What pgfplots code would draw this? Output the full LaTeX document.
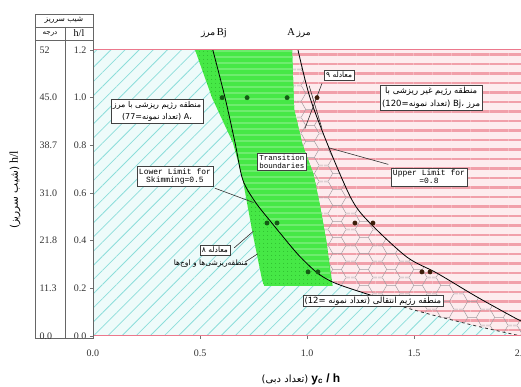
\documentclass[border=0pt]{standalone}
\usepackage{fontspec}
\setmainfont{Liberation Serif}
\newfontfamily\fa[Script=Arabic]{DejaVu Sans}
\newfontfamily\mono{Liberation Mono}
\newfontfamily\sans{Liberation Sans}
\usepackage{pgfplots}
\pgfplotsset{compat=1.18}
\usetikzlibrary{patterns.meta}
\TeXXeTstate=1
\definecolor{cyanbg}{RGB}{238,251,250}
\definecolor{cyanln}{RGB}{140,222,218}
\definecolor{pinkbg}{RGB}{253,236,238}
\definecolor{pinkln}{RGB}{241,160,170}
\definecolor{grn}{RGB}{70,232,70}
\definecolor{grndot}{RGB}{35,170,35}
\definecolor{grnwave}{RGB}{110,236,110}
\definecolor{hexc}{RGB}{165,155,160}
\definecolor{frame}{RGB}{236,120,140}
\definecolor{dotg}{RGB}{20,90,20}
\definecolor{dotb}{RGB}{60,30,10}
\tikzdeclarepattern{
  name=hexa, type=uncolored,
  bounding box={(0pt,0pt) and (27pt,15.588pt)},
  tile size={(27pt,15.588pt)},
  code={
    \draw[line width=0.5pt] (0pt,0pt)--(4.5pt,0pt)--(9pt,7.794pt)--(18pt,7.794pt)--(22.5pt,0pt)--(27pt,0pt);
    \draw[line width=0.5pt] (0pt,15.588pt)--(4.5pt,15.588pt)--(9pt,7.794pt);
    \draw[line width=0.5pt] (18pt,7.794pt)--(22.5pt,15.588pt)--(27pt,15.588pt);
  }
}
\tikzset{bx/.style={draw=black!75, fill=white, line width=0.6pt, inner sep=2pt, align=center}}
\newcommand{\fs}[1]{\fontsize{#1}{#1}\selectfont}
\begin{document}
\begin{tikzpicture}
\begin{axis}[
  at={(0pt,0pt)}, anchor=south west, scale only axis,
  width=428pt, height=286pt,
  xmin=0, xmax=2, ymin=0, ymax=1.2,
  axis line style={draw=none},
  xtick={0,0.5,1,1.5,2}, ytick={0,0.2,0.4,0.6,0.8,1.0,1.2},
  xtick pos=bottom, ytick pos=left,
  tick align=outside, major tick length=3pt,
  tick style={black!55, line width=0.6pt},
  /pgf/number format/assume math mode=true,
  xticklabel style={/pgf/number format/.cd, fixed, fixed zerofill, precision=1, /tikz/.cd, yshift=-7pt, font=\fs{10}, text=black!80},
  yticklabel style={/pgf/number format/.cd, fixed, fixed zerofill, precision=1, /tikz/.cd, font=\fs{10}, text=black!80, xshift=0pt},
]
% cyan background region
\addplot[draw=none, fill=cyanbg, postaction={pattern={Lines[angle=45,distance=10pt,line width=0.8pt]}, pattern color=cyanln}]
  coordinates {(0,0) (0,1.2) (2,1.2) (2,0)} --cycle;
% pink region
\addplot[draw=none, fill=pinkbg, postaction={pattern={Lines[angle=0,distance=9.5pt,line width=2.4pt]}, pattern color=pinkln}]
  coordinates {(0.93,1.2) (0.94,0.95) (0.98,0.80) (1.03,0.68) (1.06,0.55) (1.09,0.40) (1.11,0.235) (1.154,0.214) (1.25,0.185) (1.32,0.165) (1.42,0.13) (1.6,0.085) (1.8,0.04) (2.0,0.0) (2,1.2)} --cycle;
% hexagon transition region
\addplot[draw=none, pattern=hexa, pattern color=hexc]
  coordinates {(0.93,1.2) (0.94,0.95) (0.98,0.80) (1.03,0.68) (1.06,0.55) (1.09,0.40) (1.11,0.235) (1.154,0.214) (1.25,0.185) (1.32,0.165) (1.42,0.13) (1.6,0.085) (1.8,0.04) (2.0,0.0) (2.0,0.063) (1.963,0.08) (1.794,0.164) (1.607,0.264) (1.467,0.331) (1.294,0.474) (1.21,0.571) (1.107,0.78) (1.014,1.0) (0.958,1.2)} --cycle;
% green band
\addplot[draw=none, fill=grn, postaction={pattern={Dots[distance=4pt,radius=0.55pt]}, pattern color=grndot}]
  coordinates {(0.477,1.2) (0.556,1.0) (0.654,0.81) (0.70,0.655) (0.743,0.445) (0.79,0.235) (0.80,0.21) (1.12,0.21) (1.09,0.40) (1.06,0.55) (1.03,0.68) (0.98,0.80) (0.94,0.95) (0.93,1.2)} --cycle;
% green band, part right of boundary Bj
\addplot[draw=none, fill=grn, postaction={pattern={Lines[angle=0,distance=6pt,line width=1.2pt]}, pattern color=grnwave}]
  coordinates {(0.56,1.2) (0.617,1.0) (0.664,0.81) (0.70,0.655) (0.76,0.56) (0.836,0.474) (0.874,0.432) (0.96,0.34) (1.042,0.269) (1.10,0.235) (1.11,0.235) (1.09,0.40) (1.06,0.55) (1.03,0.68) (0.98,0.80) (0.94,0.95) (0.93,1.2)} --cycle;
% boundary Bj
\addplot[black, line width=0.8pt, smooth] coordinates {(0.56,1.2) (0.617,1.0) (0.664,0.81) (0.70,0.655) (0.76,0.56) (0.836,0.474) (0.874,0.432) (0.96,0.34) (1.042,0.269) (1.10,0.235) (1.154,0.214) (1.25,0.185) (1.32,0.165)};
\addplot[black!80, line width=0.8pt, dashed, smooth] coordinates {(1.32,0.165) (1.42,0.13) (1.6,0.085) (1.8,0.04) (2.0,0.0)};
% boundary A
\addplot[black, line width=0.8pt, smooth] coordinates {(0.958,1.2) (1.014,1.0) (1.107,0.78) (1.21,0.571) (1.294,0.474) (1.467,0.331) (1.607,0.264) (1.794,0.164) (1.963,0.08) (2.0,0.063)};
% data points
\addplot[only marks, mark=*, mark size=2.2pt, color=dotg] coordinates {(0.603,1) (0.72,1) (0.907,1) (0.813,0.474) (0.86,0.474) (1.005,0.269) (1.051,0.269)};
\addplot[only marks, mark=*, mark size=2.2pt, color=dotb] coordinates {(1.047,1) (1.224,0.474) (1.308,0.474) (1.537,0.269) (1.575,0.269)};
% frame
\draw[frame, line width=1pt] (axis cs:0,1.2) -- (axis cs:0,0) -- (axis cs:2,0);
\draw[frame, line width=1pt] (axis cs:0,1.2) -- (axis cs:2,1.2);
% leader lines
\draw[black!80, line width=0.6pt] (axis cs:0.57,0.62) -- (axis cs:0.75,0.56);
\draw[black!80, line width=0.6pt] (axis cs:1.38,0.72) -- (axis cs:1.10,0.79);
\draw[black!80, line width=0.6pt] (axis cs:0.66,0.37) -- (axis cs:0.75,0.44);
\draw[black!80, line width=0.6pt] (axis cs:0.71,0.31) -- (axis cs:0.77,0.345);
\draw[black!80, line width=0.6pt] (axis cs:1.07,1.06) -- (axis cs:0.99,0.87);
\draw[black!80, line width=0.6pt] (axis cs:1.01,1.05) -- (axis cs:1.07,0.87);
% boxes
\node[bx, font=\fa\fs{8}] at (axis cs:0.299,0.944) {\beginR منطقه رژیم ریزشی با مرز\endR\\[3pt] \beginR A، (تعداد نمونه=77)\endR};
\node[bx, font=\fa\fs{7.5}] at (axis cs:1.15,1.095) {\beginR معادله ۹\endR};
\node[bx, font=\fa\fs{8.5}] at (axis cs:1.58,0.999) {\beginR منطقه رژیم غیر ریزشی با\endR\\[3pt] \beginR مرز Bj، (تعداد نمونه=120)\endR};
\node[bx, font=\mono\fs{7.5}] at (axis cs:0.883,0.73) {Transition\\boundaries};
\node[bx, font=\mono\fs{8}] at (axis cs:1.57,0.667) {Upper Limit for\\=0.8};
\node[bx, font=\mono\fs{8}] at (axis cs:0.383,0.671) {Lower Limit for\\Skimming=0.5};
\node[bx, font=\fa\fs{7.5}] at (axis cs:0.57,0.361) {\beginR معادله ۸\endR};
\node[font=\fa\fs{7.5}] at (axis cs:0.551,0.306) {\beginR منطقه‌ریزشی‌ها و اوج‌ها\endR};
\node[bx, font=\fa\fs{8.5}, inner sep=1.5pt] at (axis cs:1.308,0.147) {\beginR منطقه رژیم انتقالی (تعداد نمونه =12)\endR};
\end{axis}
% boundary names above plot
\node[font=\fs{10.5}] at (121pt,303pt) {{\fa\fs{9}\beginR مرز\endR}\,Bj};
\node[font=\fs{10.5}] at (206pt,303pt) {A\,{\fa\fs{9}\beginR مرز\endR}};
% left table
\draw[black!60, line width=0.8pt] (-58pt,322pt) -- (0pt,322pt) -- (0pt,-2pt) -- (-58pt,-2pt) -- cycle;
\draw[black!60, line width=0.8pt] (-58pt,309pt) -- (0pt,309pt);
\draw[black!60, line width=0.8pt] (-58pt,296pt) -- (0pt,296pt);
\draw[black!60, line width=0.8pt] (-28pt,309pt) -- (-28pt,-2pt);
\node[font=\fa\fs{7.5}] at (-29pt,315.5pt) {\beginR شیب سرریز\endR};
\node[font=\fa\fs{7}] at (-43pt,302.5pt) {\beginR درجه\endR};
\node[font=\fs{10}] at (-14pt,302.5pt) {h/l};
\foreach \yy/\lab in {286/52, 238.3/45.0, 190.7/38.7, 143/31.0, 95.3/21.8, 47.7/11.3, 0/0.0}
  \node[font=\fs{10}, anchor=west, text=black!80] at (-57pt,\yy pt) {\lab};
% axis labels
\node[rotate=90, font=\fs{12}] at (-78pt,146pt) {{\fa\fs{10.5}\beginR(شیب سرریز)\endR}\ h/l};
\node[font=\fs{12}] at (208pt,-43pt) {{\fa\fs{10}\beginR(تعداد دبی)\endR}\ {\sans\bfseries y\textsubscript{c} / h}};
\pgfresetboundingbox
\path (-93pt,-51pt) rectangle (428pt,336pt);
\end{tikzpicture}
\end{document}
